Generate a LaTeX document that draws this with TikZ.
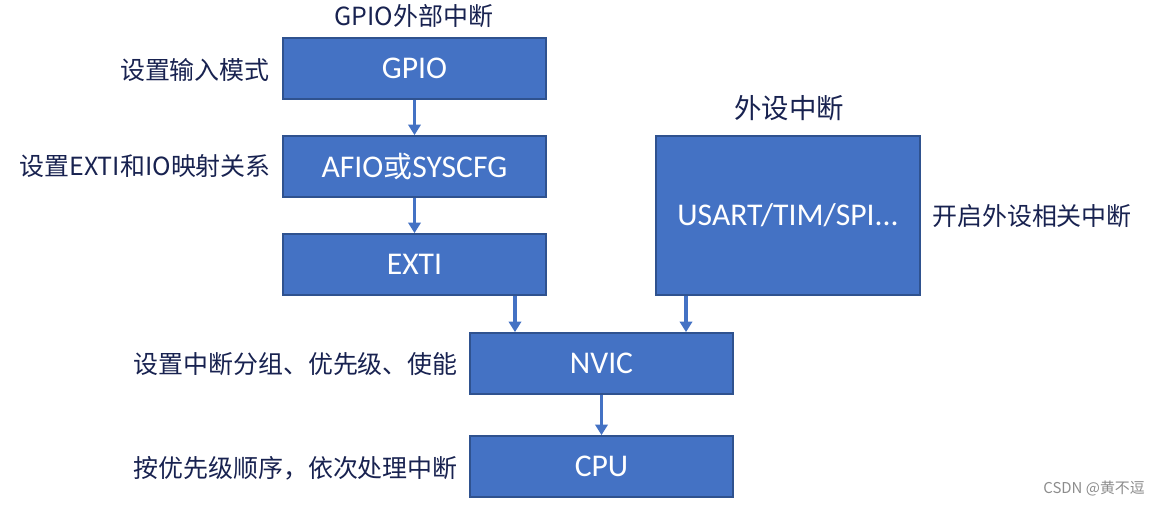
\documentclass[tikz,border=0pt]{standalone}
\usepackage{fontspec}
\setmainfont{Carlito}
\newfontfamily\cjk{Noto Sans CJK SC}
\usetikzlibrary{arrows.meta, positioning}
\definecolor{boxblue}{RGB}{68,114,196}
\definecolor{boxedge}{RGB}{47,82,143}
\definecolor{labelink}{RGB}{24,34,80}
\tikzset{
	block/.style={draw=boxedge, line width=1pt, fill=boxblue, text=white, font=\fontsize{18}{20}\selectfont, minimum width=5.26cm, minimum height=1.22cm},
	note/.style={text=labelink, font=\cjk\fontsize{14.2}{16}\selectfont},
	flow/.style={draw=boxblue, line width=1.8pt, -{Triangle[width=7pt, length=6pt]}}
}
\begin{document}
\begin{tikzpicture}[x=0.02cm, y=-0.02cm]
		\useasboundingbox (0,0) rectangle (1166,506);
		
		% GPIO external interrupt chain
		\node[note] (gpiotitle) at (414,16) {GPIO外部中断};
		\node[block] (gpio) at (414.5,68.5) {GPIO};
		\node[block] (afio) at (414.5,166.5) {AFIO{\cjk\fontsize{16.5}{18}\selectfont 或}SYSCFG};
		\node[block] (exti) at (414.5,264.5) {EXTI};
		\node[note, anchor=east] (gpiolabel) at (276,70) {设置输入模式};
		\node[note, anchor=east] (afiolabel) at (277,166) {设置EXTI和IO映射关系};
		
		% Peripheral interrupt
		\node[note, font=\cjk\fontsize{15.6}{17}\selectfont] (periphtitle) at (789,108) {外设中断};
		\node[block, minimum width=5.28cm, minimum height=3.18cm] (periph) at (788,215.5) {USART/TIM/SPI...};
		\node[note, anchor=east] (periphlabel) at (1138,216) {开启外设相关中断};
		
		% NVIC and CPU
		\node[note, anchor=east] (nviclabel) at (464,364) {设置中断分组、优先级、使能};
		\node[note, anchor=east] (cpulabel) at (464,468) {按优先级顺序，依次处理中断};
		\node[block] (nvic) at (601.5,363.5) {NVIC};
		\node[block] (cpu) at (601.5,466.5) {CPU};
		
		% Arrows
		\draw[flow] (gpio.south) -- (afio.north);
		\draw[flow] (afio.south) -- (exti.north);
		\draw[flow] ([xshift=2.01cm]exti.south) -- ([xshift=2.01cm]exti.south |- nvic.north);
		\draw[flow] ([xshift=-2.04cm]periph.south) -- ([xshift=-2.04cm]periph.south |- nvic.north);
		\draw[flow] (nvic.south) -- (cpu.north);
		
		% Watermark
		\node[text=black!45, font=\cjk\fontsize{8.5}{10}\selectfont, anchor=east] (mark) at (1151,489) {CSDN @黄不逗};
	\end{tikzpicture}
\end{document}
